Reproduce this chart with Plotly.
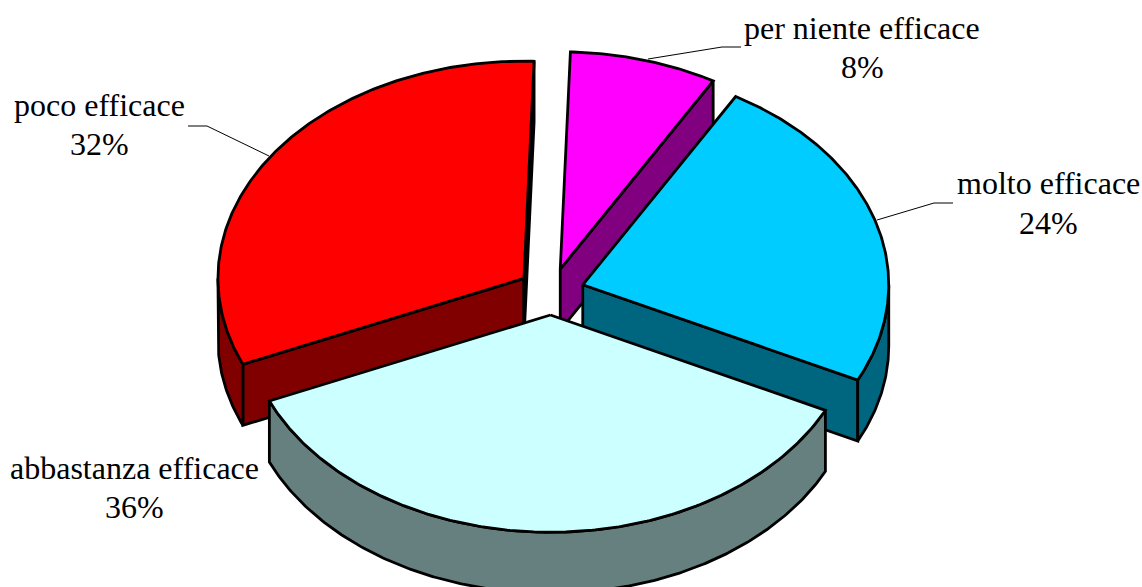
import math
import plotly.graph_objects as go

# Data (slice sizes estimated; labels show them rounded)
categories = ["per niente efficace", "molto efficace", "abbastanza efficace", "poco efficace"]
values = [7.8, 23.9, 36.3, 32.0]

# Styles
top_colors = ["#FF00FF", "#00CCFF", "#CCFFFF", "#FF0000"]
side_colors = ["#800080", "#006680", "#668080", "#800000"]
draw_order = [0, 3, 1, 2]

# Pie projection (in pixel units of the hidden axes)
W, H = 1142, 587
CX, CY = 551.2, 291.6
RX, TILT = 306.0, 0.71
EXPLODE = 33.0
DEPTH = 61.0
START_DEG = 1.9
LW = 2.8
FONT = "Liberation Serif"
FS = 32


def point(cx, cy, deg, r=RX):
    t = math.radians(deg)
    return cx + r * math.sin(t), cy - r * TILT * math.cos(t)


def arc(cx, cy, a, b):
    n = max(2, int(abs(b - a) * 2))
    return [point(cx, cy, a + (b - a) * i / n) for i in range(n + 1)]


def poly(fig, pts, fill, closed=True):
    if closed:
        pts = pts + [pts[0]]
    fig.add_trace(go.Scatter(
        x=[p[0] for p in pts], y=[p[1] for p in pts], mode="lines",
        fill="toself", fillcolor=fill, line=dict(color="black", width=LW),
        hoverinfo="skip", showlegend=False))


def down(pts):
    return [(x, y + DEPTH) for x, y in pts]


# Angles derived from the values
total = sum(values)
angles = []
a = START_DEG
for v in values:
    b = a + 360.0 * v / total
    angles.append((a, b))
    a = b

fig = go.Figure()
for i in draw_order:
    s, e = angles[i]
    mid = math.radians((s + e) / 2)
    ax = CX + EXPLODE * math.sin(mid)
    ay = CY - EXPLODE * TILT * math.cos(mid)
    apex = (ax, ay)
    # radial walls that face the viewer
    if math.sin(math.radians(s)) < 0:
        edge = [apex, point(ax, ay, s)]
        poly(fig, edge + down(edge)[::-1], side_colors[i])
    if math.sin(math.radians(e)) > 0:
        edge = [apex, point(ax, ay, e)]
        poly(fig, edge + down(edge)[::-1], side_colors[i])
    # outer rim wall: visible for the front half of the ellipse
    lo, hi = max(s, 90), min(e, 270)
    if lo < hi:
        rim = arc(ax, ay, lo, hi)
        poly(fig, rim + down(rim)[::-1], side_colors[i])
    # top face
    poly(fig, [apex] + arc(ax, ay, s, e), top_colors[i])

# Leader lines
leaders = [
    [(648, 59), (722, 47), (741, 47)],
    [(877, 220), (934, 203), (953, 203)],
    [],
    [(269, 156), (207, 126), (188, 126)],
]
for pts in leaders:
    if pts:
        fig.add_trace(go.Scatter(
            x=[p[0] for p in pts], y=[p[1] for p in pts], mode="lines",
            line=dict(color="black", width=1), hoverinfo="skip", showlegend=False))

# Labels (two centred lines each)
label_centres = [(862, 28, 67), (1048, 183, 223), (134, 468, 507), (99, 105, 144)]
annotations = []
for name, v, (lx, y1, y2) in zip(categories, values, label_centres):
    for txt, ly in ((name, y1), (f"{round(v)}%", y2)):
        annotations.append(dict(
            x=lx, y=ly, xref="x", yref="y", text=txt, showarrow=False,
            xanchor="center", yanchor="middle",
            font=dict(family=FONT, size=FS, color="black")))

fig.update_layout(
    width=W, height=H, margin=dict(l=0, r=0, t=0, b=0),
    paper_bgcolor="white", plot_bgcolor="white", showlegend=False,
    xaxis=dict(range=[0, W], visible=False, fixedrange=True),
    yaxis=dict(range=[H, 0], visible=False, fixedrange=True),
    annotations=annotations,
)
fig.write_html(
    "out.html",
    config={"displayModeBar": False},
    post_script="document.body.style.margin='0';document.body.style.overflow='hidden';",
)
